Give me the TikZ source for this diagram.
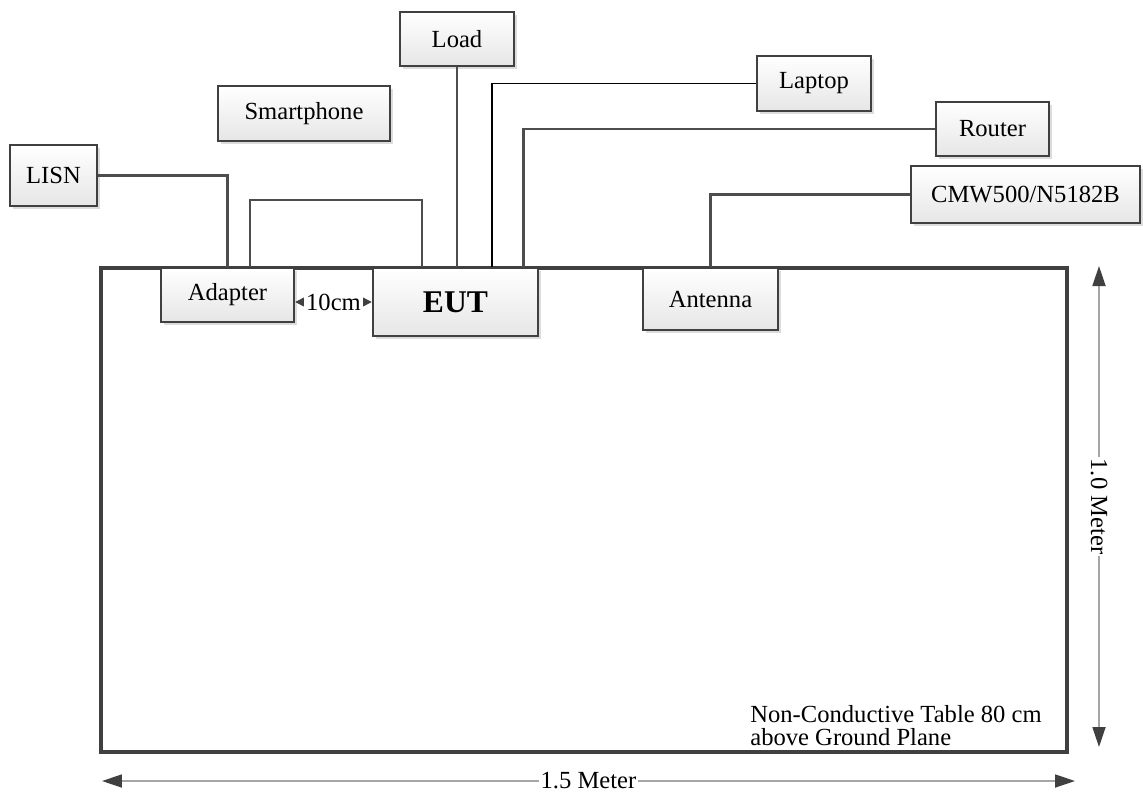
\documentclass[tikz,border=0pt]{standalone}
\usepackage{fontspec}
\setmainfont{Liberation Serif}
\usepackage{xcolor}
\usepackage{tikz}
\usetikzlibrary{positioning,calc,arrows.meta,shadows}

\definecolor{boxline}{HTML}{404040}
\definecolor{wiregray}{HTML}{4D4D4D}
\definecolor{dimgray}{HTML}{A6A6A6}
\definecolor{boxshade}{HTML}{E6E6E6}
\definecolor{shadowgray}{HTML}{DCDCDC}

\begin{document}
\begin{tikzpicture}[x=0.02cm, y=-0.02cm,
  font=\fontsize{14}{16.8}\selectfont,
  unit/.style={draw=boxline, line width=1.4pt, top color=white, bottom color=boxshade,
    general shadow={fill=shadowgray, shadow xshift=1.7pt, shadow yshift=-1.7pt},
    inner sep=0pt},
  wire/.style={draw=wiregray, line width=1.3pt},
  thinwire/.style={draw=black, line width=0.7pt},
  dim/.style={draw=dimgray, line width=1pt, >={Triangle[length=4mm, width=2.6mm, color=boxline]}, <->},
  gap/.style={draw=boxline, line width=0.8pt, >={Triangle[length=1.8mm, width=1.8mm, color=boxline]}, <->}]
\useasboundingbox (0,0) rectangle (1143,792);

% Table
\draw[draw=boxline, line width=1.9pt] (101,268) rectangle (1067,752);
\node[anchor=west, align=left, inner sep=0pt, font=\fontsize{14}{13.5}\selectfont] (note) at (750,725.5)
  {Non-Conductive Table 80 cm\\above Ground Plane};

% Units on the table
\node[unit, minimum width=2.66cm, minimum height=1.08cm] (adapter) at (227.5,295) {Adapter};
\node[unit, minimum width=3.30cm, minimum height=1.36cm, font=\fontsize{18}{21.6}\selectfont\bfseries] (eut) at (455.5,302) {EUT};
\node[unit, minimum width=2.70cm, minimum height=1.24cm] (antenna) at (710.5,299) {Antenna};

% Support equipment
\node[unit, minimum width=1.74cm, minimum height=1.22cm] (lisn) at (53.5,175.5) {LISN};
\node[unit, minimum width=3.44cm, minimum height=1.10cm] (phone) at (304,113.5) {Smartphone};
\node[unit, minimum width=2.28cm, minimum height=1.08cm] (load) at (457,39) {Load};
\node[unit, minimum width=2.28cm, minimum height=1.10cm] (laptop) at (814,83.5) {Laptop};
\node[unit, minimum width=2.26cm, minimum height=1.08cm] (router) at (992.5,129) {Router};
\node[unit, minimum width=4.58cm, minimum height=1.14cm] (cmw) at (1025.5,194.5) {CMW500/N5182B};

% Cables
\draw[wire] (lisn.east) -| (adapter.north);
\draw[wire] ($(adapter.north)+(22.5,0)$) -- ++(0,-67) -| ($(eut.north)+(-33.5,0)$);
\draw[wire] (load.south) -- (load.south |- eut.north);
\draw[thinwire] ($(eut.north)+(36.5,0)$) |- (laptop.west);
\draw[wire] ($(eut.north)+(68,0)$) |- (router.west);
\draw[wire] (cmw.west) -| (antenna.north);

% Spacing and dimensions
\draw[gap] (adapter.east |- eut.west) -- (eut.west) node[midway, fill=white, inner sep=1pt] {10cm};
\coordinate (vtop) at (1099,266);
\coordinate (vbot) at (1099,747);
\draw[dim] (vtop) -- (vbot) node[midway, fill=white, inner sep=1pt, rotate=-90] {1.0 Meter};
\coordinate (hleft) at (102,781);
\coordinate (hright) at (1075,781);
\draw[dim] (hleft) -- (hright) node[midway, fill=white, inner sep=1pt] {1.5 Meter};
\end{tikzpicture}
\end{document}
